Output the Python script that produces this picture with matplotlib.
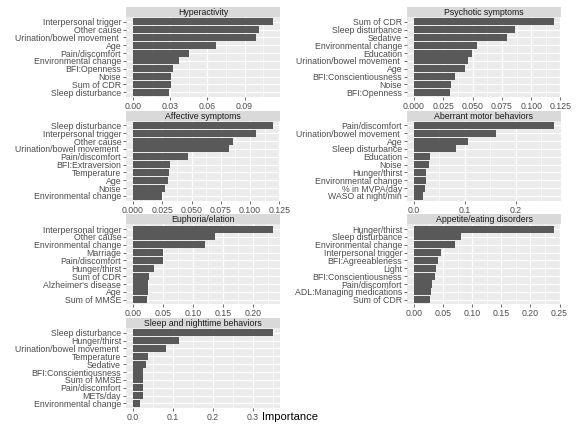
import matplotlib.pyplot as plt
from matplotlib.ticker import MultipleLocator, FormatStrFormatter

plt.rcParams['font.family'] = ['Liberation Sans', 'DejaVu Sans']

# ---- data (labels top to bottom) ----
hyper_labels = ['Interpersonal trigger', 'Other cause', 'Urination/bowel movement ', 'Age',
                'Pain/discomfort', 'Environmental change', 'BFI:Openness', 'Noise',
                'Sum of CDR', 'Sleep disturbance']
hyper_values = [0.113, 0.102, 0.099, 0.0673, 0.0454, 0.0373, 0.0319, 0.0305, 0.0303, 0.0292]

psych_labels = ['Sum of CDR', 'Sleep disturbance', 'Sedative', 'Environmental change',
                'Education', 'Urination/bowel movement ', 'Age', 'BFI:Conscientiousness',
                'Noise', 'BFI:Openness']
psych_values = [0.1195, 0.0864, 0.0798, 0.054, 0.0491, 0.0457, 0.0435, 0.035, 0.032, 0.0307]

affect_labels = ['Sleep disturbance', 'Interpersonal trigger', 'Other cause',
                 'Urination/bowel movement ', 'Pain/discomfort', 'BFI:Extraversion',
                 'Temperature', 'Age', 'Noise', 'Environmental change']
affect_values = [0.1196, 0.105, 0.0858, 0.0824, 0.0469, 0.0318, 0.031, 0.030, 0.027, 0.025]

aberr_labels = ['Pain/discomfort', 'Urination/bowel movement ', 'Age', 'Sleep disturbance',
                'Education', 'Noise', 'Hunger/thirst', 'Environmental change',
                '% in MVPA/day', 'WASO at night/min']
aberr_values = [0.275, 0.161, 0.106, 0.083, 0.031, 0.030, 0.0232, 0.023, 0.0216, 0.018]

euph_labels = ['Interpersonal trigger', 'Other cause', 'Environmental change', 'Marriage',
               'Pain/discomfort', 'Hunger/thirst', 'Sum of CDR', "Alzheimer's disease",
               'Age', 'Sum of MMSE']
euph_values = [0.233, 0.136, 0.119, 0.0506, 0.0505, 0.035, 0.026, 0.025, 0.0245, 0.0235]

appet_labels = ['Hunger/thirst', 'Sleep disturbance', 'Environmental change',
                'Interpersonal trigger', 'BFI:Agreeableness', 'Light', 'BFI:Conscientiousness',
                'Pain/discomfort', 'ADL:Managing medications', 'Sum of CDR']
appet_values = [0.2405, 0.0808, 0.071, 0.046, 0.0414, 0.0385, 0.036, 0.0305, 0.030, 0.0277]

sleep_labels = ['Sleep disturbance', 'Hunger/thirst', 'Urination/bowel movement ',
                'Temperature', 'Sedative', 'BFI:Conscientiousness', 'Sum of MMSE',
                'Pain/discomfort', 'METs/day', 'Environmental change']
sleep_values = [0.35, 0.114, 0.0825, 0.0375, 0.0317, 0.026, 0.0242, 0.0241, 0.024, 0.0175]

# title, labels, values, major step, tick format, column, row
panels = [
    ('Hyperactivity', hyper_labels, hyper_values, 0.03, '%.2f', 0, 0),
    ('Psychotic symptoms', psych_labels, psych_values, 0.025, '%.3f', 1, 0),
    ('Affective symptoms', affect_labels, affect_values, 0.025, '%.3f', 0, 1),
    ('Aberrant motor behaviors', aberr_labels, aberr_values, 0.1, '%.1f', 1, 1),
    ('Euphoria/elation', euph_labels, euph_values, 0.05, '%.2f', 0, 2),
    ('Appetite/eating disorders', appet_labels, appet_values, 0.05, '%.2f', 1, 2),
    ('Sleep and nighttime behaviors', sleep_labels, sleep_values, 0.1, '%.1f', 0, 3),
]

W, H = 583, 434
fig = plt.figure(figsize=(W / 100, H / 100), dpi=100)

col_x = [126, 407]
panel_w = 154
strip_h = 10
plot_h = 80


def add_panel(title, labels, values, step, fmt, col, row):
    x0 = col_x[col]
    top = 7 + row * 103.7
    ax = fig.add_axes([x0 / W, 1 - (top + strip_h + plot_h) / H, panel_w / W, plot_h / H])
    strip = fig.add_axes([x0 / W, 1 - (top + strip_h) / H, panel_w / W, strip_h / H])

    # strip header
    strip.set_facecolor('#D9D9D9')
    strip.set_xticks([])
    strip.set_yticks([])
    for s in strip.spines.values():
        s.set_visible(False)
    strip.text(0.5, 0.45, title, ha='center', va='center', fontsize=6.3, color='#1A1A1A',
               transform=strip.transAxes)

    n = len(values)
    ypos = list(range(n))
    ax.barh(ypos, values, height=0.9, color='#595959', zorder=2)
    ax.set_facecolor('#EBEBEB')
    ax.set_axisbelow(True)
    vmax = max(values)
    ax.set_xlim(-0.05 * vmax, 1.05 * vmax)
    ax.set_ylim(n - 0.4, -0.6)
    ax.set_yticks(ypos)
    ax.set_yticklabels(labels)
    ax.xaxis.set_major_locator(MultipleLocator(step))
    ax.xaxis.set_minor_locator(MultipleLocator(step / 2))
    ax.xaxis.set_major_formatter(FormatStrFormatter(fmt))
    ax.grid(which='major', color='white', linewidth=0.9)
    ax.grid(which='minor', axis='x', color='white', linewidth=0.45)
    for s in ax.spines.values():
        s.set_visible(False)
    ax.tick_params(which='major', length=2, width=0.5, color='#333333',
                   labelcolor='#4D4D4D', labelsize=6.3, pad=1.5)
    ax.tick_params(which='minor', length=0)
    return ax


for p in panels:
    add_panel(*p)

fig.text(290 / W, 1 - 417 / H, 'Importance', ha='center', va='center', fontsize=8, color='black')

plt.savefig('out.png', dpi=100)
plt.close()
